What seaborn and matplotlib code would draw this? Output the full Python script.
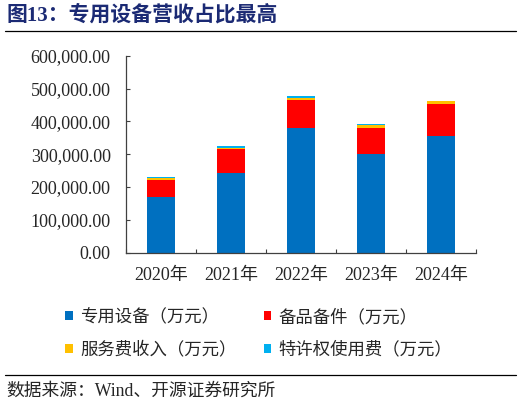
import matplotlib
matplotlib.use("Agg")
import matplotlib.pyplot as plt
from matplotlib.patches import Patch
from matplotlib.lines import Line2D
from matplotlib.ticker import FuncFormatter
import pandas as pd
import seaborn as sns

# values (万元)
years = ["2020年", "2021年", "2022年", "2023年", "2024年"]
equipment = [168500, 243700, 378900, 299700, 355400]
spare_parts = [53800, 71300, 86200, 81000, 96500]
service_fee = [6000, 4000, 7000, 8200, 10000]
royalty = [3000, 5200, 5200, 3000, 1500]

names = ["专用设备（万元）", "备品备件（万元）", "服务费收入（万元）", "特许权使用费（万元）"]
colors = ["#0070C0", "#FF0000", "#FFC000", "#00B0F0"]

df = pd.DataFrame({"year": years, names[0]: equipment, names[1]: spare_parts,
                   names[2]: service_fee, names[3]: royalty})
cum = df[names].cumsum(axis=1)

sns.set_style("ticks")
plt.rcParams["font.family"] = ["Liberation Serif", "Noto Sans CJK SC"]
plt.rcParams["axes.unicode_minus"] = False

fig = plt.figure(figsize=(5.22, 4.05), dpi=100)
ax = fig.add_axes([0.2414, 0.376, 0.6705, 0.4865])

# stacked bars: draw cumulative totals from top segment down
for name, col in reversed(list(zip(names, colors))):
    sns.barplot(x=df["year"], y=cum[name], color=col, width=0.4,
                saturation=1, linewidth=0, ax=ax)

ax.set_xlim(-0.5, 4.5)
ax.set_ylim(0, 600000)
ax.set_yticks(range(0, 600001, 100000))
ax.yaxis.set_major_formatter(FuncFormatter(lambda v, p: f"{v:,.2f}"))
ax.set_xticks([i - 0.5 for i in range(6)])
ax.set_xticklabels([])
ax.set_xticks(range(5), minor=True)
ax.set_xticklabels(years, minor=True)
ax.tick_params(axis="x", which="minor", length=0, pad=10, labelsize=13)
ax.tick_params(axis="x", which="major", direction="in", length=3, width=0.8, color="#404040")
ax.tick_params(axis="y", direction="in", length=3, width=0.8, color="#404040", pad=11, labelsize=13)
ax.set_xlabel("")
ax.set_ylabel("")
for s in ["top", "right"]:
    ax.spines[s].set_visible(False)
for s in ["left", "bottom"]:
    ax.spines[s].set_color("#404040")
    ax.spines[s].set_linewidth(0.9)

# legend
handles = [Patch(facecolor=c, edgecolor="none") for c in colors]
order = [0, 2, 1, 3]
fig.legend([handles[i] for i in order], [names[i] for i in order], ncol=2,
           loc="center left", bbox_to_anchor=(0.125, 0.176), frameon=False,
           fontsize=12.5, handlelength=0.42, handleheight=0.42, handletextpad=0.45,
           columnspacing=1.55, labelspacing=0.9, borderpad=0, borderaxespad=0)

# title, rules and source
fig.text(0.013, 0.962, "图13：专用设备营收占比最高", fontsize=15, fontweight="bold",
         color="#1B2A74", va="center", ha="left")
fig.add_artist(Line2D([0.01, 0.988], [0.923, 0.923], color="black", linewidth=0.9))
fig.add_artist(Line2D([0.01, 0.988], [0.074, 0.074], color="black", linewidth=0.9))
fig.text(0.013, 0.033, "数据来源：Wind、开源证券研究所", fontsize=12.8, va="center", ha="left")

fig.savefig("out.png", dpi=100)
